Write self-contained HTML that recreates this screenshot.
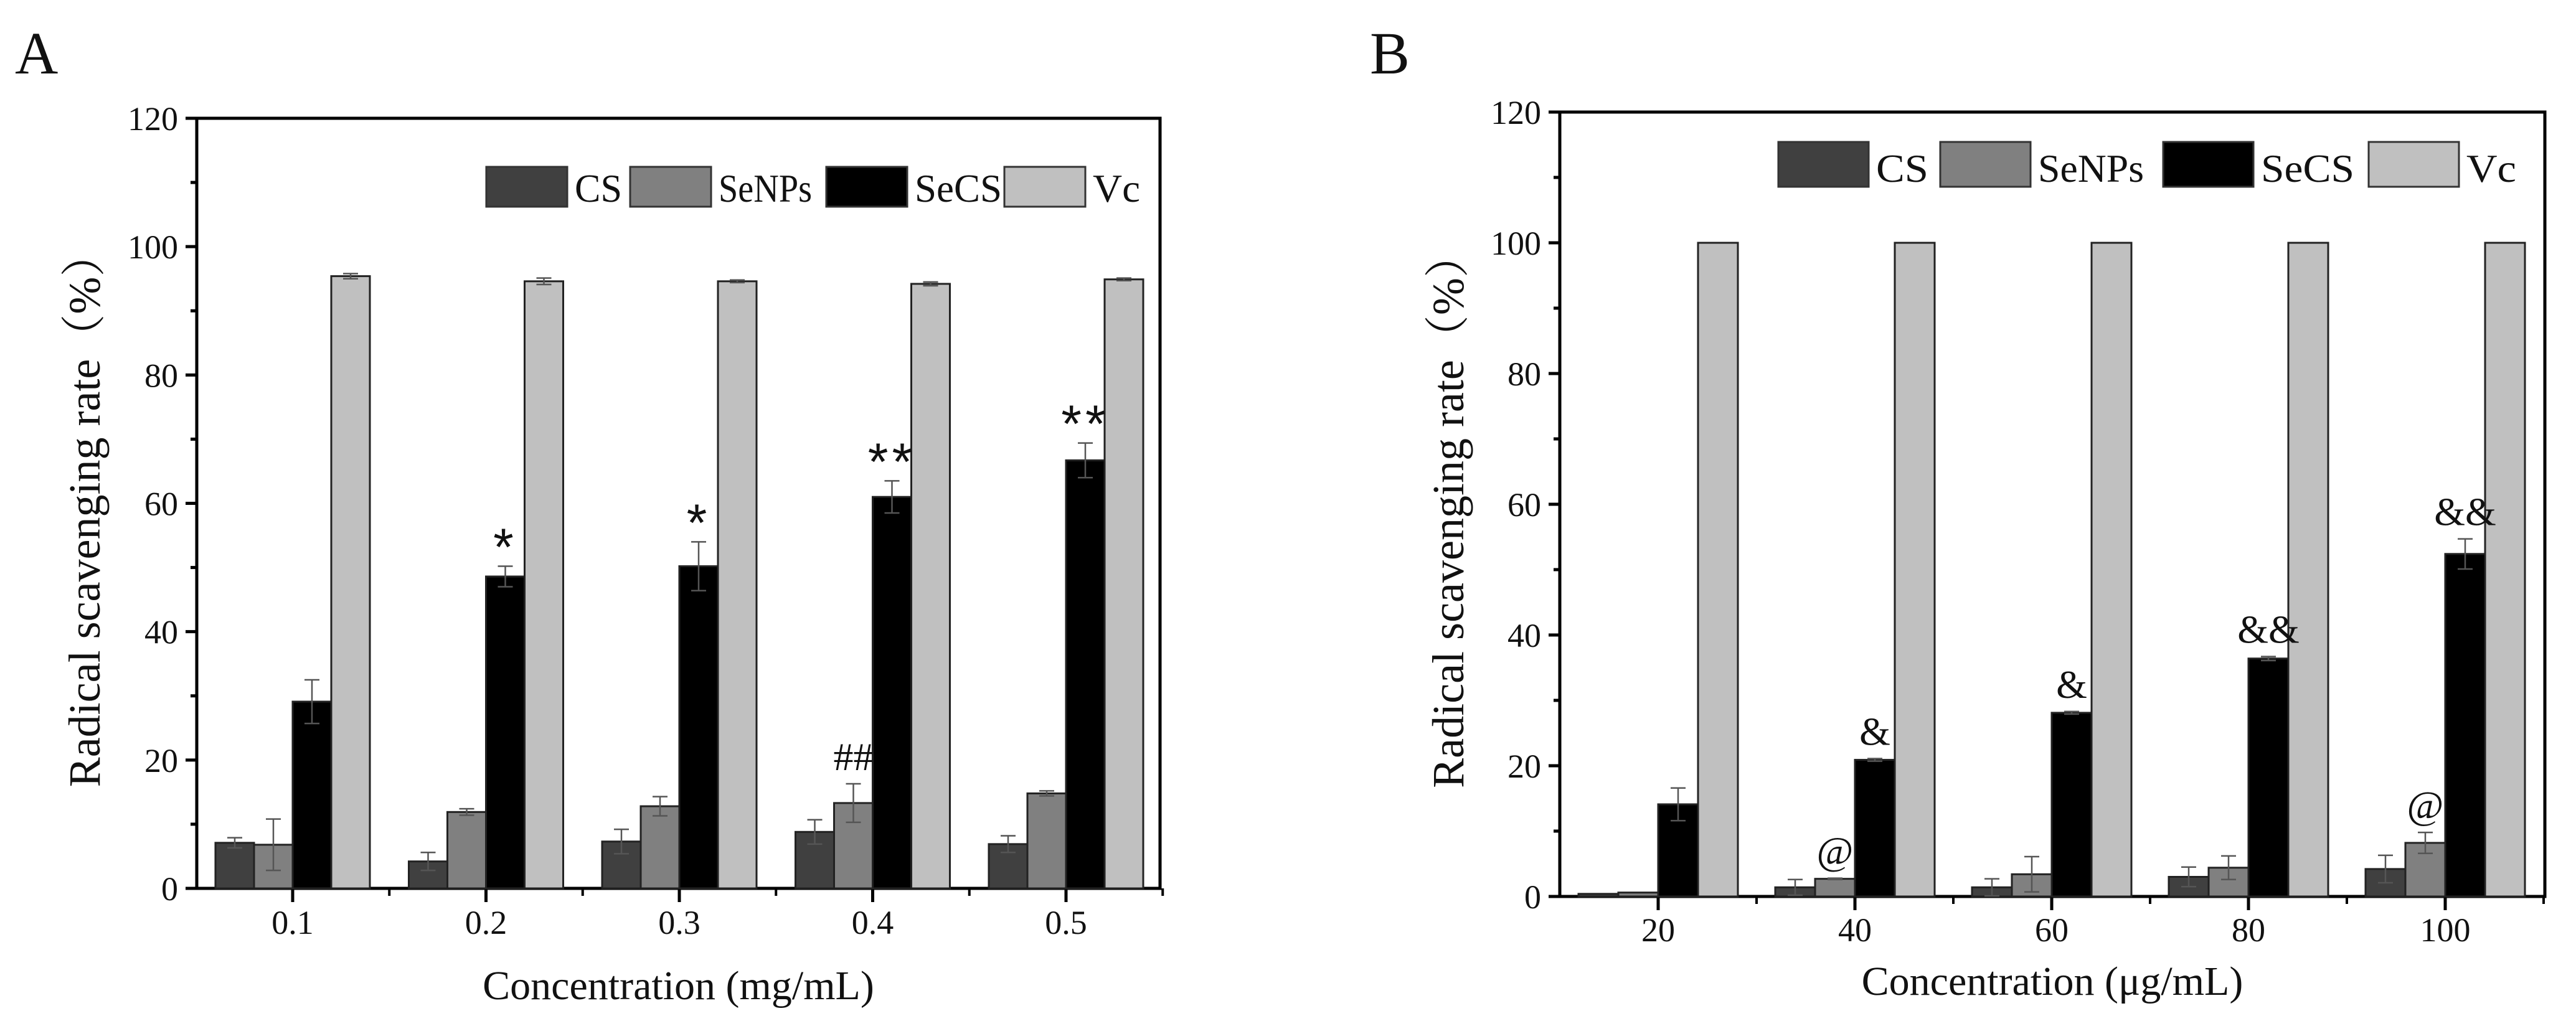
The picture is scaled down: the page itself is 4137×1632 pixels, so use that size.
<!DOCTYPE html>
<html><head><meta charset="utf-8"><style>
html,body{margin:0;padding:0;background:#fff;}
svg{display:block;font-family:"Liberation Serif",serif;}
</style></head><body>
<svg id="fig" width="4137" height="1632" viewBox="0 0 4137 1632" xmlns="http://www.w3.org/2000/svg"></svg>
<script>
const seriesNames = ["CS","SeNPs","SeCS","Vc"];
const colors = ["#404040","#808080","#000000","#c0c0c0"];
const yTicks = [0,20,40,60,80,100,120];

const catsA = ["0.1","0.2","0.3","0.4","0.5"];
const csA = [7.1,4.2,7.3,8.8,6.9];
const csErrA = [0.8,1.4,1.9,1.9,1.3];
const senpA = [6.8,11.9,12.8,13.3,14.8];
const senpErrA = [4.0,0.5,1.5,3.0,0.4];
const secsA = [29.1,48.6,50.2,61.0,66.7];
const secsErrA = [3.4,1.6,3.8,2.5,2.7];
const vcA = [95.4,94.6,94.6,94.2,94.9];
const vcErrA = [0.4,0.5,0.2,0.3,0.2];
const senpMarkA = ["","","","##",""];
const secsMarkA = ["","*","*","**","**"];

const catsB = ["20","40","60","80","100"];
const csB = [0.4,1.4,1.4,3.0,4.2];
const csErrB = [0,1.2,1.3,1.5,2.1];
const senpB = [0.6,2.7,3.4,4.4,8.2];
const senpErrB = [0,0.1,2.7,1.8,1.6];
const secsB = [14.1,20.9,28.1,36.4,52.4];
const secsErrB = [2.5,0.2,0.2,0.3,2.3];
const vcB = [100,100,100,100,100];
const vcErrB = [0,0,0,0,0];
const senpMarkB = ["","@","","","@"];
const secsMarkB = ["","&","&","&&","&&"];

const NS="http://www.w3.org/2000/svg";
const svg=document.getElementById('fig');
function mk(tag,attrs,parent,text){const e=document.createElementNS(NS,tag);for(const k in attrs)e.setAttribute(k,attrs[k]);if(text!==undefined)e.textContent=text;(parent||svg).appendChild(e);return e;}

function drawPanel(p){
  const g=mk('g',{});
  
  
  const L=p.left,R=p.right,T=p.top,B=p.bottom;
  const y=v=>B-(v/120)*(B-T);
  const cx=i=>p.c0+i*p.sp;
  const bw=p.bw;
  const fr=mk('rect',{x:L,y:T,width:R-L,height:B-T,fill:'none',stroke:'#000','stroke-width':5},g);
  
  
  for(let v=0;v<=120;v+=10){
    const major=v%20===0;
    const t=mk('line',{x1:L-(major?18:10),x2:L,y1:y(v),y2:y(v),stroke:'#000','stroke-width':5},g);
    
    
  }
  yTicks.forEach(v=>{
    const t=mk('text',{x:L-30,y:y(v)+19,'font-size':54,'text-anchor':'end',fill:'#111'},g,String(v));
    
    
  });
  p.cats.forEach((c,i)=>{
    const t=mk('line',{x1:cx(i),x2:cx(i),y1:B,y2:B+22,stroke:'#000','stroke-width':5},g);
    
    
    const b=mk('line',{x1:cx(i)+p.sp/2,x2:cx(i)+p.sp/2,y1:B,y2:B+12,stroke:'#000','stroke-width':4},g);
    
    
    const l=mk('text',{x:cx(i),y:p.xlabY,'font-size':54,'text-anchor':'middle',fill:'#111'},g,c);
    
    
  });
  const vals=[p.cs,p.senp,p.secs,p.vc], errs=[p.csE,p.senpE,p.secsE,p.vcE];
  vals.forEach((arr,s)=>{
    arr.forEach((v,i)=>{
      const x0=cx(i)-2*bw+s*bw;
      const r=mk('rect',{x:x0,y:y(v),width:bw,height:B-y(v),fill:colors[s],stroke:'#222','stroke-width':3},g);
      
      
      const e=errs[s][i];
      if(e>0){
        const xm=x0+bw/2;
        const el=mk('path',{d:`M${xm},${y(v+e)}V${y(v-e)}M${xm-12},${y(v+e)}H${xm+12}M${xm-12},${y(v-e)}H${xm+12}`,stroke:'#555','stroke-width':2.5,fill:'none'},g);
        
        
      }
    });
  });
  [[1,p.senp,p.senpE,p.senpM],[2,p.secs,p.secsE,p.secsM]].forEach(([s,arr,er,m])=>{
    m.forEach((t,i)=>{
      if(!t)return;
      const x0=cx(i)-2*bw+s*bw+bw/2;
      const star=t.includes('*');
      const a=mk('text',{x:x0,y:y(arr[i]+er[i])-(star?2:22),'font-size':star?84:64,'text-anchor':'middle',fill:'#111','font-family':star?'"Liberation Sans",sans-serif':'"Liberation Serif",serif','letter-spacing':star?6:0},g,t);
      
      
    });
  });
  p.leg.forEach((lx,s)=>{
    const r=mk('rect',{x:lx,y:p.legY,width:p.legW,height:p.legH,fill:colors[s],stroke:'#333','stroke-width':3},g);
    
    
    const t=mk('text',{x:lx+p.legW+12,y:p.legY+p.legH-8,'font-size':64,fill:'#111',textLength:p.legTL[s],lengthAdjust:'spacingAndGlyphs'},g,seriesNames[s]);
    
    
  });
  const yc=(T+B)/2+10;
  const yt=mk('text',{x:p.ytX,y:yc,'font-size':72,'text-anchor':'middle',fill:'#111',transform:`rotate(-90 ${p.ytX} ${yc})`},g,'Radical scavenging rate（%）');
  yt.setAttribute('font-family','"Liberation Serif","Noto Serif CJK SC",serif');
  
  
  const xt=mk('text',{x:(L+R)/2,y:p.xtY,'font-size':66,'text-anchor':'middle',fill:'#111'},g,p.xtitle);
  
  
  const pl=mk('text',{x:p.letX,y:118,'font-size':96,fill:'#111'},g,p.id);
  
  
}

drawPanel({id:'A',left:316,right:1863,top:190,bottom:1427,c0:470,sp:310.5,bw:62,cats:catsA,
  cs:csA,csE:csErrA,senp:senpA,senpE:senpErrA,secs:secsA,secsE:secsErrA,vc:vcA,vcE:vcErrA,senpM:senpMarkA,secsM:secsMarkA,
  leg:[781,1012,1327,1613],legY:268,legW:130,legH:64,legTL:[76,150,140,76],ytX:160,xtY:1605,xtitle:'Concentration (mg/mL)',xlabY:1500,letX:24});
drawPanel({id:'B',left:2505,right:4087,top:180,bottom:1440,c0:2663,sp:316,bw:64,cats:catsB,
  cs:csB,csE:csErrB,senp:senpB,senpE:senpErrB,secs:secsB,secsE:secsErrB,vc:vcB,vcE:vcErrB,senpM:senpMarkB,secsM:secsMarkB,
  leg:[2856,3116,3474,3804],legY:228,legW:145,legH:72,legTL:[84,170,150,80],ytX:2350,xtY:1598,xtitle:'Concentration (μg/mL)',xlabY:1512,letX:2200});
</script>
</body></html>
